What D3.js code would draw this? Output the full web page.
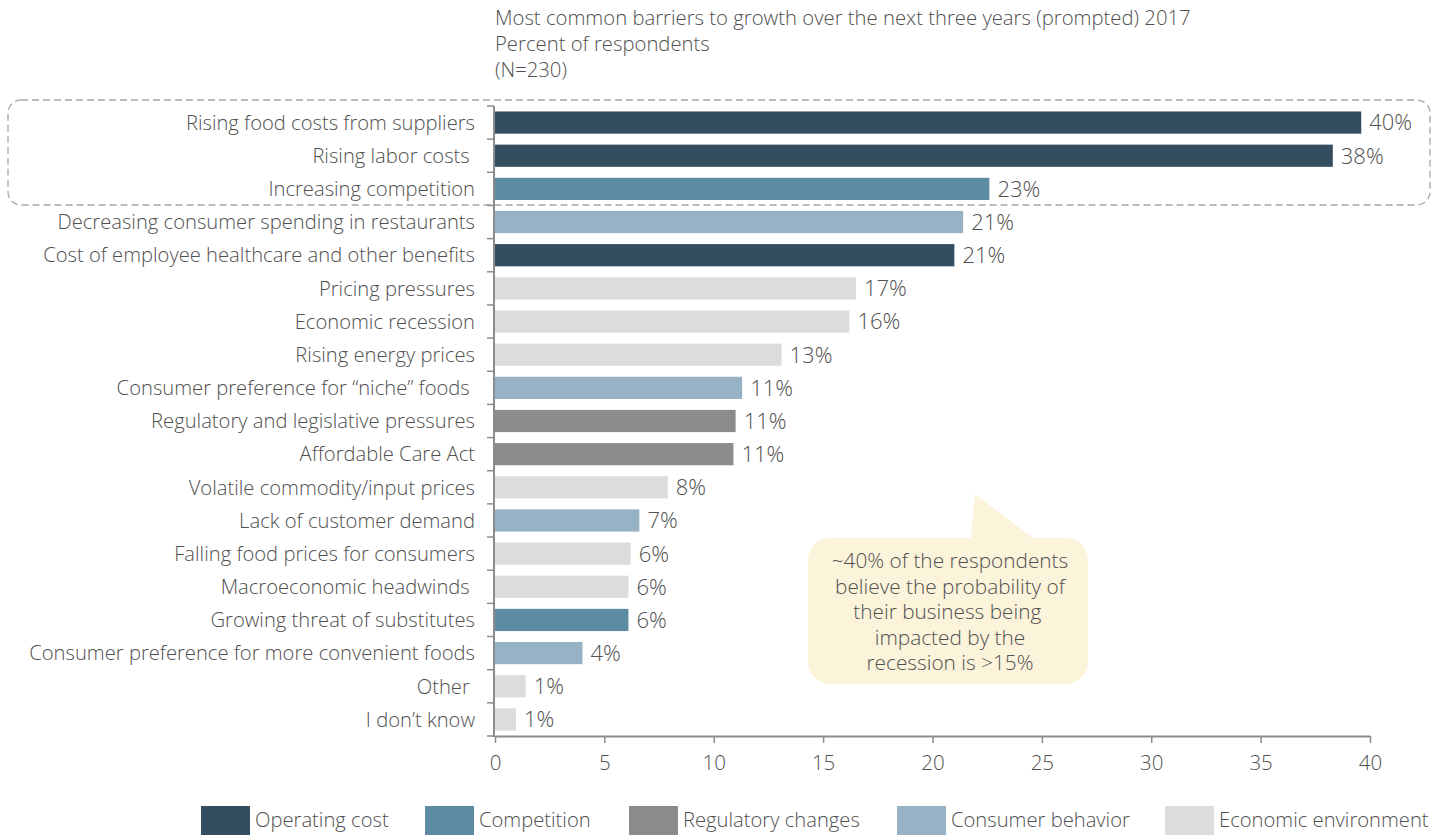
<!DOCTYPE html>
<html>
<head>
<meta charset="utf-8">
<script src="https://cdn.jsdelivr.net/npm/d3@7"></script>
<style>
  body { margin: 0; background: #fff; }
  text { font-family: "Open Sans", sans-serif; font-weight: 300; fill: #505050; }
</style>
</head>
<body>
<svg width="1445" height="835"></svg>
<script>
// chart data
var categories = [
    "Rising food costs from suppliers",
    "Rising labor costs ",
    "Increasing competition",
    "Decreasing consumer spending in restaurants",
    "Cost of employee healthcare and other benefits",
    "Pricing pressures",
    "Economic recession",
    "Rising energy prices",
    "Consumer preference for \u201cniche\u201d foods ",
    "Regulatory and legislative pressures",
    "Affordable Care Act",
    "Volatile commodity/input prices",
    "Lack of customer demand",
    "Falling food prices for consumers",
    "Macroeconomic headwinds ",
    "Growing threat of substitutes",
    "Consumer preference for more convenient foods",
    "Other ",
    "I don\u2019t know"
];
var values = [39.6, 38.3, 22.6, 21.4, 21.0, 16.5, 16.2, 13.1, 11.3, 11.0, 10.9, 7.9, 6.6, 6.2, 6.1, 6.1, 4.0, 1.4, 0.96];
var valueLabels = ["40%", "38%", "23%", "21%", "21%", "17%", "16%", "13%", "11%", "11%", "11%", "8%", "7%", "6%", "6%", "6%", "4%", "1%", "1%"];
var groups = ["op", "op", "comp", "cons", "op", "econ", "econ", "econ", "cons", "reg", "reg", "econ", "cons", "econ", "econ", "comp", "cons", "econ", "econ"];

var groupKeys = ["op", "comp", "reg", "cons", "econ"];
var groupNames = ["Operating cost", "Competition", "Regulatory changes", "Consumer behavior", "Economic environment"];
var groupColours = ["#354e5f", "#5e8ba4", "#8c8c8c", "#97b2c4", "#dcdcdc"];

var xTicks = [0, 5, 10, 15, 20, 25, 30, 35, 40];
var titleLines = [
    "Most common barriers to growth over the next three years (prompted) 2017",
    "Percent of respondents",
    "(N=230)"
];
var calloutLines = [
    "~40% of the respondents",
    "believe the probability of",
    "their business being ",
    "impacted by the",
    "recession is >15%"
];

var svg = d3.select("svg");

var colour = d3.scaleOrdinal().domain(groupKeys).range(groupColours);

var x = d3.scaleLinear().domain([0, 40]).range([495, 1370]);
var y = d3.scaleBand()
    .domain(d3.range(categories.length))
    .range([106, 736])
    .paddingInner(0.33)
    .paddingOuter(0.165);

// title
svg.append("g").selectAll("text")
    .data(titleLines)
    .enter().append("text")
    .attr("x", 495)
    .attr("y", function (d, i) { return 25 + i * 26; })
    .style("font-size", "20.3px")
    .text(function (d) { return d; });

// dashed highlight box around the top three
svg.append("rect")
    .attr("x", 8)
    .attr("y", 100)
    .attr("width", 1422)
    .attr("height", 105)
    .attr("rx", 13)
    .attr("fill", "none")
    .attr("stroke", "#a6a6a6")
    .attr("stroke-width", 1.3)
    .attr("stroke-dasharray", "7,4");

// bars
svg.append("g").selectAll("rect")
    .data(values)
    .enter().append("rect")
    .attr("x", x(0))
    .attr("y", function (d, i) { return y(i); })
    .attr("width", function (d) { return x(d) - x(0); })
    .attr("height", y.bandwidth())
    .attr("fill", function (d, i) { return colour(groups[i]); });

// value labels
svg.append("g").selectAll("text")
    .data(values)
    .enter().append("text")
    .attr("x", function (d) { return x(d) + 8; })
    .attr("y", function (d, i) { return y(i) + y.bandwidth() / 2; })
    .attr("dy", "0.36em")
    .style("font-size", "22px")
    .text(function (d, i) { return valueLabels[i]; });

// category labels
svg.append("g").selectAll("text")
    .data(categories)
    .enter().append("text")
    .attr("x", 475)
    .attr("y", function (d, i) { return y(i) + y.bandwidth() / 2; })
    .attr("dy", "0.36em")
    .attr("text-anchor", "end")
    .style("font-size", "20.2px")
    .style("white-space", "pre")
    .text(function (d) { return d; });

// y axis line with ticks between bands
var yAxis = svg.append("g");
yAxis.append("line")
    .attr("x1", 494).attr("x2", 494)
    .attr("y1", 106).attr("y2", 737)
    .attr("stroke", "#8c8c8c").attr("stroke-width", 2);
yAxis.selectAll("line.tk")
    .data(d3.range(categories.length + 1))
    .enter().append("line")
    .attr("class", "tk")
    .attr("x1", 487).attr("x2", 494)
    .attr("y1", function (d) { return 106 + d * y.step(); })
    .attr("y2", function (d) { return 106 + d * y.step(); })
    .attr("stroke", "#8c8c8c").attr("stroke-width", 1.5);

// x axis
var xAxis = svg.append("g")
    .attr("transform", "translate(0,736)")
    .call(d3.axisBottom(x).tickValues(xTicks).tickSize(7).tickPadding(12).tickSizeOuter(0));
xAxis.select(".domain").attr("stroke", "#8c8c8c").attr("stroke-width", 2);
xAxis.selectAll(".tick line").attr("stroke", "#8c8c8c").attr("stroke-width", 1.5);
xAxis.selectAll(".tick text")
    .style("font-family", "Open Sans, sans-serif")
    .style("font-weight", "300")
    .style("font-size", "20.5px")
    .attr("fill", "#505050");

// callout bubble
var bubble = svg.append("g");
bubble.append("path")
    .attr("d", d3.line()([[970, 545], [975, 494], [1042, 545]]))
    .attr("fill", "#fbf3da");
bubble.append("rect")
    .attr("x", 808)
    .attr("y", 538)
    .attr("width", 280)
    .attr("height", 146)
    .attr("rx", 22)
    .attr("fill", "#fbf3da");
bubble.selectAll("text")
    .data(calloutLines)
    .enter().append("text")
    .attr("x", 950)
    .attr("y", function (d, i) { return 568 + i * 25.5; })
    .attr("text-anchor", "middle")
    .style("font-size", "20.8px")
    .style("white-space", "pre")
    .text(function (d) { return d; });

// legend
var legendX = [201, 425, 629, 897, 1165];
var legend = svg.append("g").selectAll("g")
    .data(groupKeys)
    .enter().append("g")
    .attr("transform", function (d, i) { return "translate(" + legendX[i] + ",806)"; });
legend.append("rect")
    .attr("width", 49)
    .attr("height", 30)
    .attr("fill", function (d) { return colour(d); });
legend.append("text")
    .attr("x", 54)
    .attr("y", 21)
    .style("font-size", "20.2px")
    .text(function (d, i) { return groupNames[i]; });
</script>
</body>
</html>
